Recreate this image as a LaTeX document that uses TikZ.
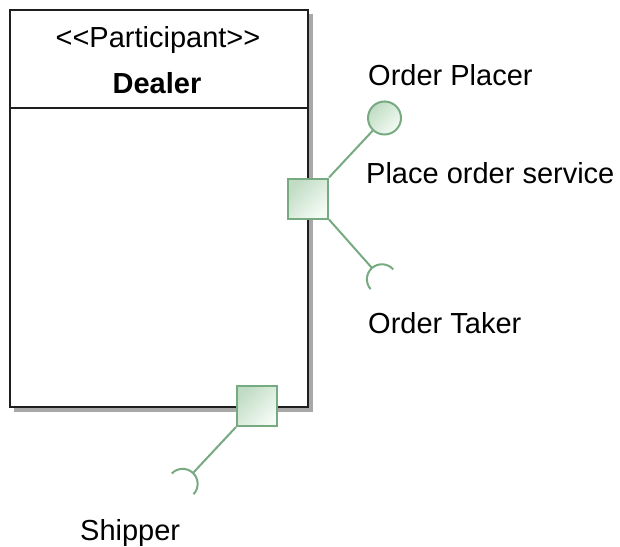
\documentclass[tikz,border=0pt]{standalone}
\usepackage{fontspec}
\setmainfont{Liberation Sans}
\definecolor{portline}{RGB}{120, 170, 130}
\definecolor{portdark}{RGB}{192, 220, 196}
\definecolor{portlight}{RGB}{244, 251, 244}
\definecolor{boxshadow}{RGB}{168, 168, 168}
\definecolor{boxline}{RGB}{30, 30, 30}

\begin{document}
\begin{tikzpicture}[x=1pt, y=1pt, line join=miter,
        lbl/.style={font=\fontsize{29}{34}\selectfont, inner sep=0pt},
        port/.style={rectangle, draw=portline, line width=2pt, top color=portdark,
            bottom color=portlight, shading angle=45, inner sep=0pt, minimum size=40pt},
        lolly/.style={circle, draw=portline, line width=2pt, top color=portdark,
            bottom color=portlight, shading angle=45, inner sep=0pt, minimum size=33pt},
        wire/.style={draw=portline, line width=2pt}]

    \useasboundingbox[fill=white] (0,0) rectangle (620,-546);

    % --- uczestnik (klasa z cieniem) ---
    \fill[boxshadow] (14,-14) rectangle (313,-412);
    \draw[boxline, line width=2.4pt, fill=white] (10,-10) rectangle (308,-407);
    \draw[boxline, line width=2pt] (10,-108) -- (308,-108);
    \node[lbl, anchor=base] (stereo) at (158,-47) {<\kern0pt<Participant>\kern0pt>};
    \node[lbl, anchor=base, font=\fontsize{29}{34}\selectfont\bfseries] (dealer) at (157,-93) {Dealer};

    % --- porty ---
    \node[port] (pr) at (308,-198.5) {};
    \node[port] (pb) at (257,-406) {};

    % --- interfejs dostarczany i wymagane ---
    \node[lolly] (placer) at (384.5,-118) {};
    \coordinate (taker) at (372,-268);
    \coordinate (shipsock) at (193,-473);

    % --- połączenia ---
    \draw[wire] (pr.north east) -- (placer);
    \draw[wire] (pr.south east) -- (taker);
    \draw[wire] (pb.south west) -- (shipsock);

    % --- gniazda ---
    \draw[wire] (taker) ++(-48.65:15pt) ++(41.35:15pt) arc[start angle=41.35, end angle=221.35, radius=15pt];
    \draw[wire] (shipsock) ++(-133.7:15pt) ++(-43.7:15pt) arc[start angle=-43.7, end angle=136.3, radius=15pt];

    % --- etykiety ---
    \node[lbl, anchor=base west] (placerlbl) at (368,-85) {Order Placer};
    \node[lbl, anchor=base west] (servicelbl) at (366,-183) {Place order service};
    \node[lbl, anchor=base west] (takerlbl) at (368,-333) {Order Taker};
    \node[lbl, anchor=base west] (shiplbl) at (80,-540) {Shipper};

\end{tikzpicture}
\end{document}
